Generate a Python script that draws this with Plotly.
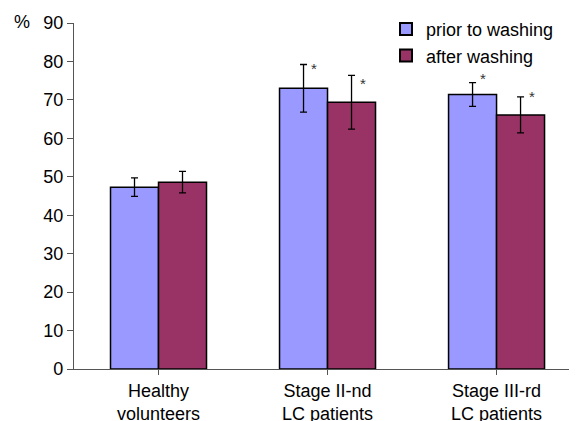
import plotly.graph_objects as go

categories = ["Healthy<br>volunteers", "Stage II-nd<br>LC patients", "Stage III-rd<br>LC patients"]
series_names = ["prior to washing", "after washing"]
prior_values = [47.3, 73.0, 71.4]
prior_errors = [2.4, 6.2, 3.1]
after_values = [48.6, 69.4, 66.1]
after_errors = [2.8, 7.0, 4.7]
y_ticks = [0, 10, 20, 30, 40, 50, 60, 70, 80, 90]

colors = ["#9999FF", "#993366"]
FONT = "Liberation Sans, Arial, sans-serif"

# page body has an 8px margin, so the figure is drawn 8px smaller and offset
W, H = 569, 413
ML, MR, MT, MB = 66, 0, 15, 52
PW, PH = W - ML - MR, H - MT - MB

fig = go.Figure()
for name, vals, errs, col in [(series_names[0], prior_values, prior_errors, colors[0]),
                              (series_names[1], after_values, after_errors, colors[1])]:
    fig.add_trace(go.Bar(
        x=list(range(len(categories))), y=vals, name=name,
        marker=dict(color=col, line=dict(color="black", width=1.5)),
        error_y=dict(type="data", array=errs, visible=True, color="black", thickness=1.3, width=3.5),
    ))

# significance asterisks (groups 2 and 3, both series)
star_specs = [
    (1, prior_values[1] + prior_errors[1], -0.143, -4),
    (1, after_values[1] + after_errors[1], 0.143, -8),
    (2, prior_values[2] + prior_errors[2], -0.143, 4),
    (2, after_values[2] + after_errors[2], 0.143, 0),
]
for xc, ytop, dx, ysh in star_specs:
    fig.add_annotation(x=xc + dx, y=ytop, text="*", showarrow=False, xref="x", yref="y",
                       xshift=11, yshift=ysh, font=dict(family=FONT, size=15, color="#333"))

fig.add_annotation(x=(14 - ML) / PW, y=(MT + PH - 14) / PH, xref="paper", yref="paper", text="%",
                   showarrow=False, xanchor="center", yanchor="middle",
                   font=dict(family=FONT, size=18, color="black"))

fig.update_layout(
    width=W, height=H,
    margin=dict(l=ML, r=MR, t=MT, b=MB, autoexpand=False),
    paper_bgcolor="white", plot_bgcolor="white",
    font=dict(family=FONT, size=18, color="black"),
    barmode="group", bargap=0.432, bargroupgap=0,
    showlegend=True,
    legend=dict(x=(378 - ML) / PW, y=1.035, xanchor="left", yanchor="top", bgcolor="rgba(0,0,0,0)",
                font=dict(family=FONT, size=18), tracegroupgap=0, itemsizing="constant"),
    xaxis=dict(range=[-0.5, 2.476], tickmode="array", tickvals=[0, 1, 2], ticktext=categories,
               showline=True, linecolor="#555", linewidth=1.3, ticks="outside", ticklen=5,
               tickcolor="#555", tickson="boundaries", showgrid=False, zeroline=False,
               tickfont=dict(family=FONT, size=18)),
    yaxis=dict(range=[0, 90], tickvals=y_ticks, showline=True, linecolor="#555", linewidth=1.3,
               ticks="outside", ticklen=6, tickcolor="#555", showgrid=False, zeroline=False,
               tickfont=dict(family=FONT, size=18)),
)

fig.write_html("out.html")
